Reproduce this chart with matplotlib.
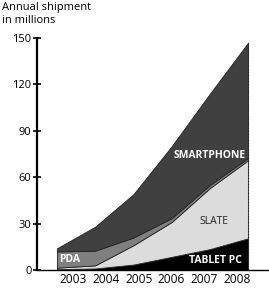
import matplotlib
matplotlib.use("Agg")
import matplotlib.pyplot as plt
import numpy as np

years = ["2003", "2004", "2005", "2006", "2007", "2008"]
tablet_pc = [0.5, 1.0, 3.5, 8.5, 13.5, 20.5]
slate = [1.0, 2.0, 12.5, 22.5, 39.5, 50.5]
pda = [10.5, 9.5, 5.0, 2.5, 2.0, 1.5]
smartphone = [2.0, 15.5, 28.0, 46.5, 59.0, 74.5]
yticks = [0, 30, 60, 90, 120, 150]

plt.rcParams['font.family'] = ['Open Sans', 'DejaVu Sans']

fig = plt.figure(figsize=(2.69, 2.88), dpi=100)
ax = fig.add_axes([37/269, 18/288, 231/269, 232/288])

x = np.arange(len(years))
series = [tablet_pc, slate, pda, smartphone]
colors = ["#000000", "#dcdcdc", "#7f7f7f", "#404040"]
base = np.zeros(len(years))
for vals, c in zip(series, colors):
    top = base + np.array(vals)
    ax.fill_between(x, base, top, facecolor=c, edgecolor="#222222", linewidth=0.6)
    base = top
ax.plot([x[-1], x[-1]], [0, base[-1]], color="#222222", lw=0.8, ls=":")

ax.set_xlim(-0.52, 5.52)
ax.set_ylim(0, 150)
ax.set_yticks(yticks)
ax.set_yticklabels([str(v) for v in yticks], fontsize=8)
ax.set_xticks(np.linspace(0.42, 4.71, len(years)))
ax.set_xticklabels(years, fontsize=8.6)
ax.tick_params(axis='x', length=0, pad=2)
ax.tick_params(axis='y', direction='inout', length=6, width=1.2, pad=1)
for s in ['top', 'right']:
    ax.spines[s].set_visible(False)
ax.spines['left'].set_linewidth(1.6)
ax.spines['bottom'].set_linewidth(1.0)

ax.text(4.0, 74, "SMARTPHONE", color="white", fontsize=7.5, fontweight='bold', ha='center', va='center')
ax.text(4.1, 31.5, "SLATE", color="#222222", fontsize=7.5, ha='center', va='center')
ax.text(4.14, 6, "TABLET PC", color="white", fontsize=7.5, fontweight='bold', ha='center', va='center')
ax.text(0.34, 7, "PDA", color="white", fontsize=7.5, fontweight='bold', ha='center', va='center')

fig.text(2/269, 1 - 2/288, "Annual shipment\nin millions", fontsize=8, ha='left', va='top', linespacing=1.2)

fig.savefig("out.png", dpi=100)
